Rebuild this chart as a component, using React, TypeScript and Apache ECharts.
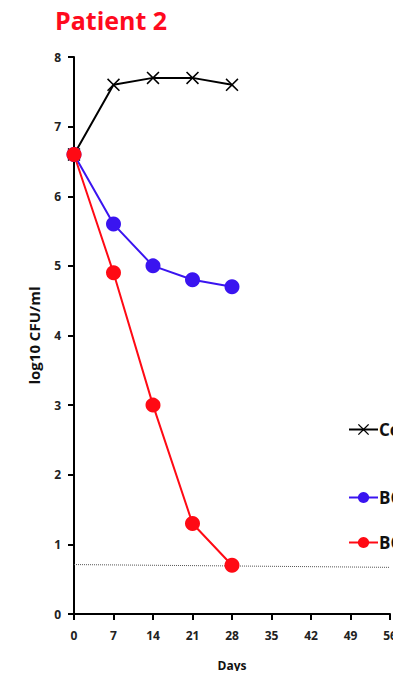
import React, { useEffect, useRef } from "react";
import * as echarts from "echarts";

const days = [0, 7, 14, 21, 28];
const controlValues = [6.6, 7.6, 7.7, 7.7, 7.6];
const bcgValues = [6.6, 5.6, 5.0, 4.8, 4.7];
const bcg2Values = [6.6, 4.9, 3.0, 1.3, 0.7];
const detectionLimit = [
  [0, 0.71],
  [56, 0.67],
];
const seriesNames = ["Control", "BCG", "BCG+Drug"];

const xSymbol =
  "path://M0,1 L1,0 L6,5 L11,0 L12,1 L7,6 L12,11 L11,12 L6,7 L1,12 L0,11 L5,6 Z";

const font = "'Open Sans', 'Liberation Sans', sans-serif";

export default function App() {
  const ref = useRef<HTMLDivElement>(null);
  useEffect(() => {
    const chart = echarts.init(ref.current!, null, { renderer: "svg" });
    const pair = (v: number[]) => days.map((d, i) => [d, v[i]]);
    const legendBase = {
      orient: "vertical",
      left: 343,
      itemWidth: 29,
      itemHeight: 14,
      itemGap: 0,
      textStyle: { fontFamily: font, fontWeight: "bold", fontSize: 17, color: "#111", padding: [0, 0, 0, -4] },
    };
    chart.setOption({
      animation: false,
      title: {
        text: "Patient 2",
        left: 50,
        top: 2,
        textStyle: { fontFamily: font, fontWeight: "bold", fontSize: 25, color: "#ff0a1e" },
      },
      legend: [
        { ...legendBase, top: 416, data: [seriesNames[0]] },
        { ...legendBase, top: 484, data: [seriesNames[1]] },
        { ...legendBase, top: 529, data: [seriesNames[2]] },
      ],
      grid: { left: 74, right: 11, top: 57, bottom: 65 },
      xAxis: {
        type: "value",
        min: 0,
        max: 56,
        interval: 7,
        name: "Days",
        nameLocation: "middle",
        nameGap: 45,
        nameTextStyle: { fontFamily: font, fontWeight: "bold", fontSize: 12, color: "#111" },
        axisLine: { lineStyle: { color: "#000", width: 2 } },
        axisTick: { length: 6, lineStyle: { color: "#000", width: 2 } },
        axisLabel: { margin: 15, fontFamily: font, fontWeight: "bold", fontSize: 12, color: "#222" },
        splitLine: { show: false },
      },
      yAxis: {
        type: "value",
        min: 0,
        max: 8,
        interval: 1,
        name: "log10 CFU/ml",
        nameLocation: "middle",
        nameGap: 33,
        nameTextStyle: { fontFamily: font, fontWeight: "bold", fontSize: 15, color: "#111" },
        axisLine: { show: true, lineStyle: { color: "#000", width: 2 } },
        axisTick: { show: true, length: 6, lineStyle: { color: "#000", width: 2 } },
        axisLabel: { margin: 13, fontFamily: font, fontWeight: "bold", fontSize: 12, color: "#222" },
        splitLine: { show: false },
      },
      series: [
        {
          name: "limit",
          type: "line",
          data: detectionLimit,
          symbol: "none",
          silent: true,
          lineStyle: { color: "#555", width: 1, type: [1, 1] },
          z: 1,
        },
        {
          name: seriesNames[0],
          type: "line",
          data: pair(controlValues),
          symbol: xSymbol,
          symbolSize: 13,
          itemStyle: { color: "#000" },
          lineStyle: { color: "#000", width: 2 },
        },
        {
          name: seriesNames[1],
          type: "line",
          data: pair(bcgValues),
          symbol: "circle",
          symbolSize: 15,
          itemStyle: { color: "#3a14f0" },
          lineStyle: { color: "#3a14f0", width: 2 },
        },
        {
          name: seriesNames[2],
          type: "line",
          data: pair(bcg2Values),
          symbol: "circle",
          symbolSize: 15,
          itemStyle: { color: "#ff0a14" },
          lineStyle: { color: "#ff0a14", width: 2 },
          z: 3,
        },
      ],
    });
    return () => chart.dispose();
  }, []);
  return <div ref={ref} style={{ width: 401, height: 679, margin: -8 }} />;
}
